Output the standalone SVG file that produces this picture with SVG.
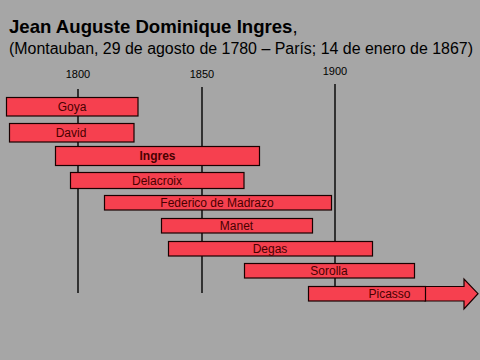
<svg xmlns="http://www.w3.org/2000/svg" width="480" height="360" viewBox="0 0 480 360">
<style>
.bg{fill:#A6A6A6}
.bar{fill:#F6404F;stroke:#1a0000;stroke-width:1.2}
.lbl{font-family:"Liberation Sans",Arial,sans-serif;font-size:12px;fill:#4a0000;text-anchor:middle}
.yr{font-family:"Liberation Sans",Arial,sans-serif;font-size:11px;fill:#000;text-anchor:middle}
.axis{stroke:#000;stroke-width:1.4}
</style>
<rect class="bg" x="0" y="0" width="480" height="360"/>
<g id="title">
<text x="9" y="33" font-family="'Liberation Sans',Arial,sans-serif" font-size="18.6" fill="#000"><tspan font-weight="bold">Jean Auguste Dominique Ingres</tspan>,</text>
<text x="9" y="54" font-family="'Liberation Sans',Arial,sans-serif" font-size="16" fill="#000" textLength="464" lengthAdjust="spacingAndGlyphs">(Montauban, 29 de agosto de 1780 – París; 14 de enero de 1867)</text>
</g>
<g id="axis">
<text class="yr" x="78" y="78">1800</text>
<text class="yr" x="202" y="78">1850</text>
<text class="yr" x="335" y="75">1900</text>
<line class="axis" x1="78" y1="89" x2="78" y2="293"/>
<line class="axis" x1="202" y1="87" x2="202" y2="293"/>
<line class="axis" x1="335" y1="84" x2="335" y2="290"/>
</g>
<g id="goya"><rect class="bar" x="6.5" y="97.5" width="131.5" height="18.5"/><text class="lbl" x="72" y="110.5">Goya</text></g>
<g id="david"><rect class="bar" x="9.5" y="123.5" width="124.5" height="18.5"/><text class="lbl" x="71" y="137">David</text></g>
<g id="ingres"><rect class="bar" x="55.5" y="146.5" width="204" height="19"/><text class="lbl" x="157.5" y="160" font-weight="bold">Ingres</text></g>
<g id="delacroix"><rect class="bar" x="70.5" y="172.5" width="173.5" height="16"/><text class="lbl" x="157" y="184.5">Delacroix</text></g>
<g id="madrazo"><rect class="bar" x="104.5" y="195.5" width="227" height="14.5"/><text class="lbl" x="217" y="207">Federico de Madrazo</text></g>
<g id="manet"><rect class="bar" x="161.5" y="218.5" width="151" height="14.5"/><text class="lbl" x="236.5" y="230">Manet</text></g>
<g id="degas"><rect class="bar" x="168.5" y="241.5" width="204" height="14.5"/><text class="lbl" x="270" y="253">Degas</text></g>
<g id="sorolla"><rect class="bar" x="244.5" y="263.5" width="170" height="14.5"/><text class="lbl" x="329" y="275">Sorolla</text></g>
<g id="picasso">
<path class="bar" d="M425,286.5 H464 V279 L478,293.7 L464,309 V301 H425 Z"/>
<rect class="bar" x="308.5" y="286.5" width="117" height="14.5"/>
<text class="lbl" x="389.5" y="298">Picasso</text>
</g>
</svg>
